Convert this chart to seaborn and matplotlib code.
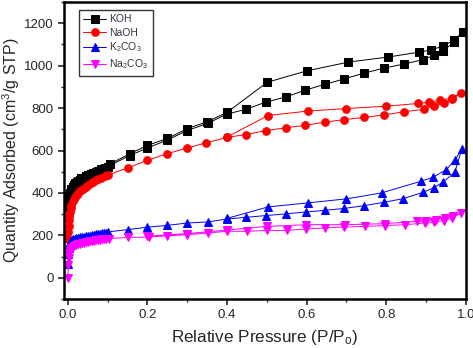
import pandas as pd
import matplotlib
matplotlib.use('Agg')
import matplotlib.pyplot as plt
from matplotlib.ticker import MultipleLocator
import seaborn as sns

# adsorption / desorption branches
koh_ads_x = [0.0, 0.001, 0.002, 0.003, 0.005, 0.007, 0.009, 0.012, 0.015, 0.018,
             0.022, 0.026, 0.03, 0.034, 0.038, 0.045, 0.051, 0.057, 0.063, 0.07,
             0.076, 0.084, 0.0925, 0.1, 0.155, 0.2, 0.248, 0.3, 0.351, 0.4,
             0.447, 0.497, 0.547, 0.597, 0.645, 0.695, 0.744, 0.795, 0.845, 0.893,
             0.92, 0.943, 0.97]
koh_ads_y = [330, 352, 370, 385, 400, 412, 420, 430, 438, 445,
             452, 458, 463, 468, 472, 479, 485, 490, 495, 500,
             505, 511, 518, 524, 576, 612, 648, 694, 728, 772,
             794, 828, 852, 885, 912, 938, 965, 989, 1008, 1029,
             1049, 1069, 1112]
koh_des_x = [0.9925, 0.97, 0.943, 0.912, 0.883, 0.805, 0.705, 0.601, 0.501, 0.4,
             0.35, 0.3, 0.25, 0.2, 0.155, 0.107]
koh_des_y = [1159, 1121, 1093, 1074, 1064, 1041, 1017, 976, 922, 780,
             736, 703, 657, 624, 584, 538]

naoh_ads_x = [0.0, 0.001, 0.002, 0.003, 0.004, 0.005, 0.007, 0.009, 0.012, 0.015,
              0.018, 0.022, 0.026, 0.03, 0.034, 0.038, 0.045, 0.051, 0.057, 0.063,
              0.07, 0.076, 0.084, 0.0925, 0.1, 0.15, 0.2, 0.248, 0.3, 0.347,
              0.4, 0.447, 0.497, 0.547, 0.597, 0.647, 0.695, 0.744, 0.794, 0.845,
              0.894, 0.92, 0.945, 0.966]
naoh_ads_y = [183, 215, 245, 270, 292, 310, 330, 345, 360, 372,
              382, 392, 400, 407, 414, 420, 430, 438, 445, 452,
              459, 465, 472, 478, 484, 518, 554, 584, 612, 636,
              662, 675, 694, 707, 719, 734, 746, 756, 768, 783,
              794, 809, 825, 841]
naoh_des_x = [0.988, 0.966, 0.934, 0.907, 0.88, 0.80, 0.70, 0.603, 0.503, 0.40]
naoh_des_y = [872, 849, 836, 828, 822, 809, 798, 786, 765, 664]

k2co3_ads_x = [0.0, 0.001, 0.002, 0.003, 0.005, 0.007, 0.01, 0.013, 0.017, 0.021,
               0.025, 0.03, 0.035, 0.04, 0.045, 0.05, 0.055, 0.06, 0.065, 0.07,
               0.075, 0.08, 0.085, 0.09, 0.095, 0.1, 0.151, 0.198, 0.25, 0.3,
               0.351, 0.4, 0.448, 0.497, 0.547, 0.598, 0.647, 0.695, 0.745, 0.795,
               0.843, 0.8925, 0.92, 0.943, 0.972]
k2co3_ads_y = [65, 110, 140, 158, 168, 174, 178, 181, 184, 186,
               188, 190, 192, 194, 196, 198, 199, 201, 203, 204,
               206, 208, 209, 211, 213, 216, 227, 238, 247, 258,
               263, 277, 285, 293, 301, 310, 318, 327, 340, 356,
               373, 403, 425, 452, 497]
k2co3_des_x = [0.99, 0.973, 0.951, 0.9175, 0.887, 0.788, 0.70, 0.603, 0.503, 0.40]
k2co3_des_y = [608, 557, 510, 474, 455, 400, 372, 353, 334, 280]

na2co3_ads_x = [0.0, 0.001, 0.002, 0.003, 0.005, 0.007, 0.009, 0.012, 0.015, 0.02,
                0.025, 0.03, 0.035, 0.04, 0.045, 0.05, 0.055, 0.06, 0.065, 0.07,
                0.075, 0.08, 0.085, 0.09, 0.095, 0.1025, 0.151, 0.203, 0.25, 0.30,
                0.351, 0.40, 0.45, 0.50, 0.55, 0.598, 0.647, 0.695, 0.747, 0.797,
                0.847, 0.897, 0.92, 0.945, 0.966]
na2co3_ads_y = [0, 60, 95, 115, 128, 136, 141, 146, 150, 154,
                157, 160, 163, 165, 167, 169, 171, 173, 175, 177,
                178, 180, 181, 182, 183, 185, 190, 192, 198, 203,
                211, 219, 219, 223, 223, 230, 235, 239, 242, 246,
                250, 258, 261, 269, 282]
na2co3_des_x = [0.987, 0.9675, 0.947, 0.926, 0.90, 0.878, 0.797, 0.697, 0.598, 0.50,
                0.40, 0.30, 0.2]
na2co3_des_y = [305, 290, 282, 274, 266, 266, 255, 250, 250, 242,
                225, 208, 196]

samples = ['KOH', 'NaOH', 'K$_2$CO$_3$', 'Na$_2$CO$_3$']
colors = ['black', '#ff0000', '#0000ff', '#ff00ff']
markers = ['s', 'o', '^', 'v']
branches = [
    (koh_ads_x + koh_des_x, koh_ads_y + koh_des_y),
    (naoh_ads_x + naoh_des_x, naoh_ads_y + naoh_des_y),
    (k2co3_ads_x + k2co3_des_x, k2co3_ads_y + k2co3_des_y),
    (na2co3_ads_x + na2co3_des_x, na2co3_ads_y + na2co3_des_y),
]

sns.set_style('ticks')
plt.rcParams['font.family'] = ['Liberation Sans', 'DejaVu Sans']
plt.rcParams['mathtext.fontset'] = 'custom'
plt.rcParams['mathtext.rm'] = 'Liberation Sans'
plt.rcParams['mathtext.it'] = 'Liberation Sans'

fig = plt.figure(figsize=(4.73, 3.48), dpi=100)
ax = fig.add_axes([0.135, 0.141, 0.85, 0.853])

for name, (xs, ys), c, m in zip(samples, branches, colors, markers):
    df = pd.DataFrame({'x': xs, 'y': ys})
    sns.lineplot(data=df, x='x', y='y', sort=False, estimator=None, color=c,
                 marker=m, markersize=5.5, markeredgecolor=c, linewidth=0.7,
                 label=name, ax=ax)

ax.set_xlim(-0.01, 0.995)
ax.set_ylim(-100, 1300)
ax.xaxis.set_major_locator(MultipleLocator(0.2))
ax.xaxis.set_minor_locator(MultipleLocator(0.1))
ax.yaxis.set_major_locator(MultipleLocator(200))
ax.yaxis.set_minor_locator(MultipleLocator(100))
ax.set_xticks([0.0, 0.2, 0.4, 0.6, 0.8, 1.0])
ax.set_xticklabels(['0.0', '0.2', '0.4', '0.6', '0.8', '1.0'])
ax.tick_params(which='major', direction='out', length=4, width=1.2, labelsize=9.5)
ax.tick_params(which='minor', direction='out', length=2, width=1)
for s in ax.spines.values():
    s.set_linewidth(1.8)
    s.set_color('black')

ax.set_xlabel(r'Relative Pressure (P/P$_\mathrm{o}$)', fontsize=12.3, labelpad=5)
ax.set_ylabel(r'Quantity Adsorbed (cm$^\mathrm{3}$/g STP)', fontsize=11.5, labelpad=1)

leg = ax.legend(loc='upper left', bbox_to_anchor=(0.025, 0.99), fontsize=7.5,
                frameon=True, fancybox=False, edgecolor='black', handlelength=2.2,
                borderpad=0.4, labelspacing=0.3, handletextpad=0.3)
leg.get_frame().set_linewidth(1.0)
for t in leg.get_texts():
    t.set_color('#333344')

fig.savefig('out.png', dpi=100)
